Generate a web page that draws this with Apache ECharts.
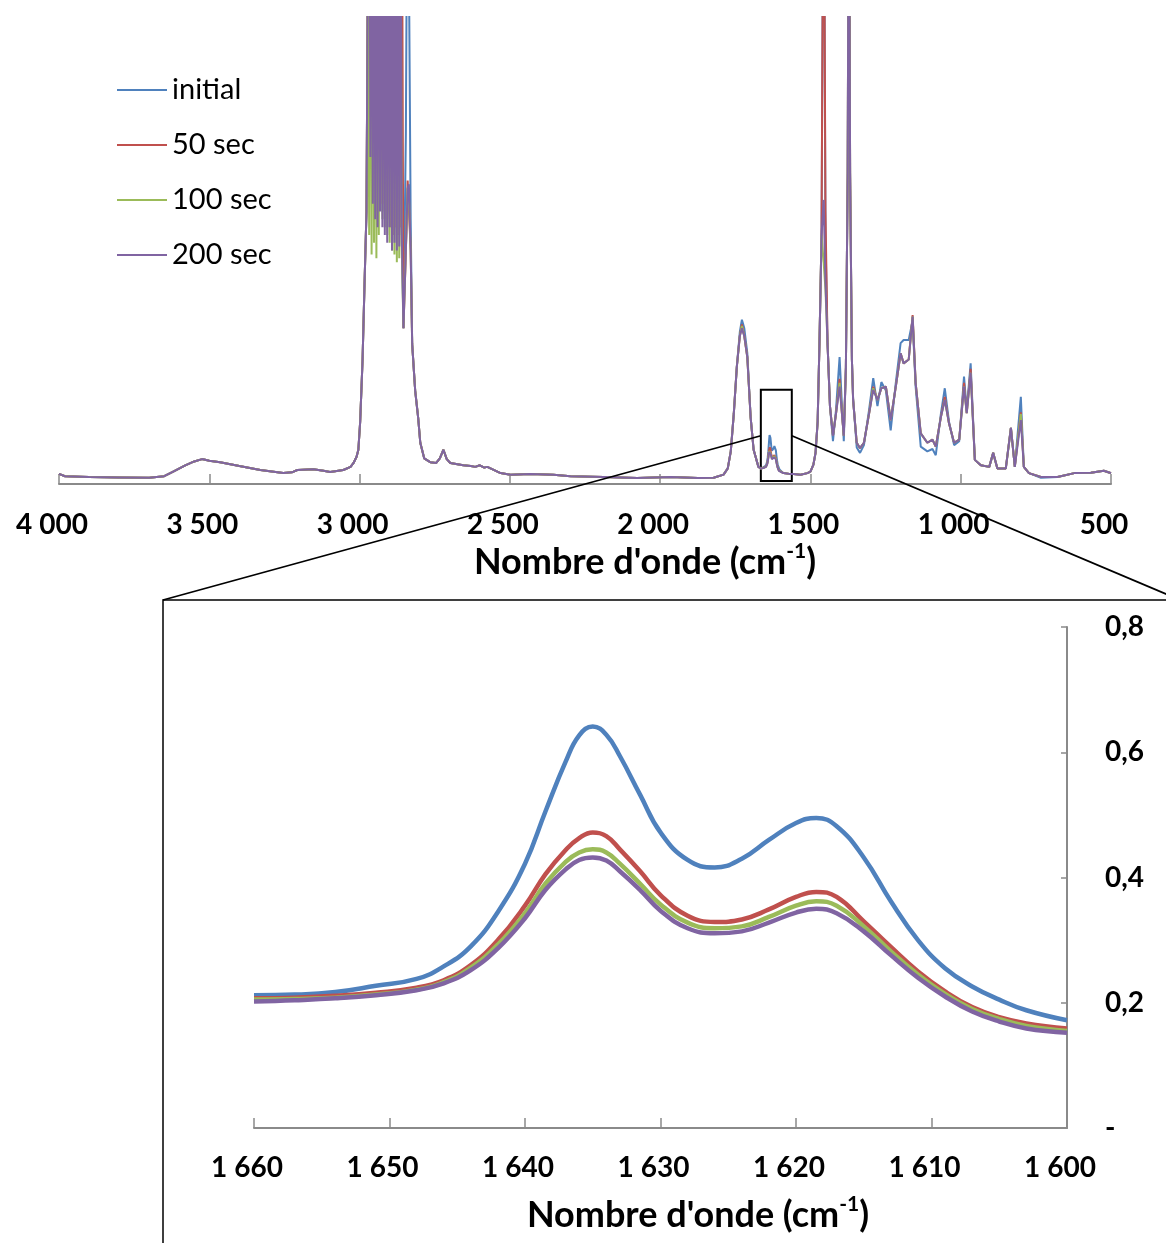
<!DOCTYPE html>
<html><head><meta charset="utf-8">
<script src="https://cdn.jsdelivr.net/npm/echarts@6/dist/echarts.min.js"></script>
<style>html,body{margin:0;padding:0;background:#fff}#c{width:1166px;height:1243px}</style>
</head><body><div id="c"></div>
<script>
// ---------- DATA ----------
const seriesNames = ['initial', '50 sec', '100 sec', '200 sec'];

// Full spectrum, part before the zoomed window (cm-1)
const topWnA = [4000,3980,3900,3800,3700,3650,3620,3580,3550,3524,3500,3464,3400,3330,3254,3225,3207,3154,3120,3098,3054,3030,3020,3010,3004,2998,2990,2984,2977,2972,
2968,2964,2960,2956,2952,2948,2944,2940,2936,2932,2928,2924,2920,2916,2912,2908,2904,2900,2896,2892,2888,2884,2880,2876,2872,2868,2864,2860,
2854,2846,2840,2836,2830,2825,2815,2805,2798,2785,2765,2745,2733,2721,2710,2698,2655,2630,2615,2600,2585,2575,2531,2498,2432,2355,2298,2188,2076,1965,1875,1822,1789,1775,1765,1755,1745,1735,1728,1720,1710,1699,1689,1673,1665];

const topInitialA = [0.13,0.10,0.09,0.085,0.08,0.10,0.16,0.24,0.29,0.32,0.30,0.28,0.23,0.18,0.14,0.15,0.18,0.19,0.17,0.155,0.18,0.22,0.27,0.35,0.44,0.8,1.6,2.5,3.5,7,
9,4.5,9,3.8,9,3.6,9,3.5,9,3.7,9,3.5,9,3.4,9,3.3,9,3.5,9,3.2,9,3.3,9,3.2,9,3.2,9,3.5,
2.0,4.5,9,9,3.4,1.8,1.2,0.85,0.53,0.33,0.28,0.27,0.33,0.44,0.32,0.27,0.24,0.23,0.22,0.24,0.21,0.22,0.14,0.12,0.13,0.12,0.10,0.09,0.077,0.09,0.077,0.08,0.12,0.2,0.42,0.9,1.5,1.95,2.11,2.0,1.68,0.86,0.44,0.22,0.2];
const top50A = [0.13,0.10,0.09,0.085,0.08,0.10,0.16,0.24,0.29,0.32,0.30,0.28,0.23,0.18,0.14,0.15,0.18,0.19,0.17,0.155,0.18,0.22,0.27,0.35,0.44,0.8,1.6,2.5,3.5,7,
9,4.5,9,3.9,9,3.7,9,3.6,9,3.8,9,3.6,9,3.5,9,3.4,9,3.5,3.3,9,3.2,9,3.3,9,3.2,9,3.3,9,
2.0,3.0,3.9,3.9,3.0,1.8,1.2,0.85,0.53,0.33,0.28,0.27,0.33,0.44,0.32,0.27,0.24,0.23,0.22,0.24,0.21,0.22,0.14,0.12,0.13,0.12,0.10,0.09,0.077,0.09,0.077,0.08,0.12,0.2,0.42,0.9,1.5,1.9,2.05,1.9,1.63,0.86,0.44,0.22,0.2];
const top100A = [0.13,0.10,0.09,0.085,0.08,0.10,0.16,0.24,0.29,0.32,0.30,0.28,0.23,0.18,0.14,0.15,0.18,0.19,0.17,0.155,0.18,0.22,0.27,0.35,0.44,0.8,1.6,2.5,3.5,7,
3.2,9,2.95,9,3.1,9,2.9,9,3.2,9,9,3.4,9,3.3,9,3.2,9,3.1,9,3.0,9,2.95,9,2.85,9,2.9,9,3.1,
2.0,3.0,3.8,3.7,3.0,1.8,1.2,0.85,0.53,0.33,0.28,0.27,0.33,0.44,0.32,0.27,0.24,0.23,0.22,0.24,0.21,0.22,0.14,0.12,0.13,0.12,0.10,0.09,0.077,0.09,0.077,0.08,0.12,0.2,0.42,0.9,1.5,1.9,2.03,1.9,1.63,0.86,0.44,0.22,0.2];
const top200A = [0.13,0.10,0.09,0.085,0.08,0.10,0.16,0.24,0.29,0.32,0.30,0.28,0.23,0.18,0.14,0.15,0.18,0.19,0.17,0.155,0.18,0.22,0.27,0.35,0.44,0.8,1.6,2.5,3.5,7,
9,4.2,9,3.6,9,3.4,9,3.3,9,3.5,9,3.3,9,3.2,9,3.1,9,3.3,9,3.0,9,3.1,9,3.0,9,3.05,9,3.3,
2.0,3.0,3.8,3.85,3.0,1.8,1.2,0.85,0.53,0.33,0.28,0.27,0.33,0.44,0.32,0.27,0.24,0.23,0.22,0.24,0.21,0.22,0.14,0.12,0.13,0.12,0.10,0.09,0.077,0.09,0.077,0.08,0.12,0.2,0.42,0.9,1.5,1.9,2.0,1.9,1.63,0.86,0.44,0.22,0.2];

// Zoomed window 1660-1600 cm-1 (also part of the full spectrum)
const insetWn = [1660,1657,1654,1651,1648,1646,1644,1642,1640,1638.5,1637,1636,1635,1634,1633,1631.5,1630,1628,1626,1624,1622,1620,1618.5,1617,1615,1613,1611,1609,1607,1605,1603,1600];
const insetInitial = [0.212,0.213,0.217,0.227,0.238,0.258,0.29,0.345,0.422,0.505,0.585,0.627,0.641,0.628,0.594,0.532,0.472,0.428,0.416,0.43,0.46,0.487,0.495,0.482,0.432,0.362,0.30,0.255,0.226,0.205,0.188,0.172];
const inset50 = [0.207,0.208,0.211,0.216,0.224,0.236,0.26,0.30,0.355,0.405,0.444,0.463,0.472,0.466,0.445,0.41,0.372,0.339,0.329,0.333,0.349,0.369,0.377,0.369,0.33,0.289,0.25,0.218,0.193,0.177,0.167,0.159];
const inset100 = [0.205,0.206,0.208,0.213,0.221,0.233,0.256,0.293,0.343,0.39,0.425,0.44,0.445,0.44,0.422,0.39,0.357,0.328,0.319,0.322,0.337,0.355,0.362,0.355,0.322,0.282,0.245,0.214,0.19,0.174,0.163,0.155];
const inset200 = [0.202,0.204,0.207,0.212,0.22,0.231,0.252,0.287,0.335,0.38,0.413,0.428,0.432,0.427,0.41,0.38,0.347,0.319,0.311,0.314,0.328,0.344,0.35,0.343,0.314,0.276,0.24,0.21,0.186,0.17,0.159,0.152];

// Full spectrum, part after the zoomed window
const topWnB = [1590,1570,1556,1533,1510,1500,1490,1483,1476,1470,1463,1456,1450,1443,1435,1425,1415,1403,1395,1389,1382,1376,1372,1368,1362,1358,1346,1335,1322,1305,1291,1277,1264,1249,1233,1216,1200,1190,1173,1160,1150,1133,1111,1094,1083,1066,1053,1039,1022,1005,989,980,967,953,933,905,892,878,850,833,820,800,790,773,733,678,622,567,524,504,500];
const topInitialB = [0.14,0.13,0.13,0.12,0.14,0.16,0.25,0.4,0.8,1.8, 3.2,9,3.2,1.8,1.0,0.55,0.95,1.63,1.0,0.55, 1.5,4,9,4,1.6,1.1,0.47,0.4,0.5,0.95, 1.36,1.0,1.31,1.2,0.69,1.3,1.81,1.85,1.85,2.1, 1.25,0.48,0.42,0.45,0.37,0.9,1.23,0.8,0.5,0.55, 1.38,0.95,1.55,0.31,0.24,0.22,0.40,0.2,0.2,0.72, 0.22,1.12,0.22,0.14,0.08,0.09,0.14,0.145,0.17,0.145, 0.14];
const top50B = [0.14,0.13,0.13,0.12,0.14,0.16,0.25,0.4,0.8,1.8, 3.2,9,3.5,1.8,1.0,0.62,0.9,1.35,0.9,0.62, 1.5,4,9,4,1.6,1.08,0.53,0.46,0.53,0.9, 1.25,1.08,1.23,1.25,0.82,1.25,1.68,1.55,1.6,2.17, 1.3,0.65,0.53,0.57,0.48,0.86,1.12,0.78,0.53,0.57, 1.3,0.91,1.48,0.31,0.24,0.22,0.40,0.2,0.2,0.72, 0.22,0.92,0.22,0.14,0.09,0.09,0.14,0.145,0.17,0.145, 0.14];
const top100B = [0.14,0.13,0.13,0.12,0.14,0.16,0.25,0.4,0.8,1.8, 3.2,2.85,2.5,1.8,1.0,0.62,0.9,1.3,0.9,0.62, 1.5,4,9,4,1.6,1.08,0.53,0.46,0.53,0.9, 1.23,1.08,1.23,1.25,0.82,1.25,1.68,1.55,1.6,2.15, 1.3,0.65,0.53,0.57,0.48,0.86,1.08,0.78,0.53,0.57, 1.25,0.91,1.43,0.31,0.24,0.22,0.40,0.2,0.2,0.72, 0.22,0.9,0.22,0.14,0.09,0.09,0.14,0.145,0.17,0.145, 0.14];
const top200B = [0.14,0.13,0.13,0.12,0.14,0.16,0.25,0.4,0.8,1.8, 3.2,3.65,2.6,1.8,1.0,0.62,0.9,1.25,0.9,0.62, 1.5,4,9,4,1.6,1.08,0.53,0.46,0.53,0.9, 1.21,1.08,1.23,1.25,0.82,1.25,1.68,1.55,1.6,2.15, 1.3,0.65,0.53,0.57,0.48,0.86,1.08,0.78,0.53,0.57, 1.25,0.91,1.43,0.31,0.24,0.22,0.40,0.2,0.2,0.72, 0.22,0.82,0.22,0.14,0.09,0.09,0.14,0.145,0.17,0.145, 0.14];

// Tick labels
const topTickValues = [4000,3500,3000,2500,2000,1500,1000,500];
const topTickLabels = ['4 000','3 500','3 000','2 500','2 000','1 500','1 000','500'];
const insetTickValues = [1660,1650,1640,1630,1620,1610,1600];
const insetTickLabels = ['1 660','1 650','1 640','1 630','1 620','1 610','1 600'];
const insetYValues = [0,0.2,0.4,0.6,0.8];
const insetYLabels = ['-','0,2','0,4','0,6','0,8'];
const axisTitle = "Nombre d'onde (cm";
const axisTitleSup = '-1';

// Zoom rectangle drawn on the full spectrum (wavenumber range, absorbance range)
const zoomBoxWn = [1665, 1562];
const zoomBoxAbs = [0.04, 1.21];
const zoomLinkAbs = 0.62;

// ---------- CHART ----------
const colors = ['#4F81BD', '#C0504D', '#9BBB59', '#8064A2'];
const pairs = (w, v) => w.map((x, i) => [x, v[i]]);
const topVals = [
  topInitialA.concat(insetInitial, topInitialB),
  top50A.concat(inset50, top50B),
  top100A.concat(inset100, top100B),
  top200A.concat(inset200, top200B)
];
const topWn = topWnA.concat(insetWn, topWnB);
const insetVals = [insetInitial, inset50, inset100, inset200];

const FONT = 'Lato';
const gray = '#8a8a8a';
const lookup = (vals, labels) => v => { const i = vals.findIndex(t => Math.abs(t - v) < 1e-6); return i >= 0 ? labels[i] : ''; };
const titleName = '{t|' + axisTitle + '}{s|' + axisTitleSup + '}{t|)}';
const titleRich = {
  t: { fontFamily: FONT, fontWeight: 'bold', fontSize: 36, color: '#000', lineHeight: 42 },
  s: { fontFamily: FONT, fontWeight: 'bold', fontSize: 21, color: '#000', lineHeight: 42, verticalAlign: 'top', padding: [0, 0, 16, 0] }
};

const series = [];
seriesNames.forEach((n, k) => {
  const s = {
    name: n, type: 'line', xAxisIndex: 0, yAxisIndex: 0,
    data: pairs(topWn, topVals[k]), showSymbol: false, symbol: 'none',
    lineStyle: { color: colors[k], width: 2 }, itemStyle: { color: colors[k] },
    clip: true, animation: false, z: 2 + k
  };
  if (k === 3) {
    s.markArea = {
      silent: true,
      itemStyle: { color: 'rgba(0,0,0,0)', borderColor: '#000', borderWidth: 2 },
      data: [[{ coord: [zoomBoxWn[0], zoomBoxAbs[0]] }, { coord: [zoomBoxWn[1], zoomBoxAbs[1]] }]]
    };
  }
  series.push(s);
});
seriesNames.forEach((n, k) => {
  series.push({
    name: n, type: 'line', xAxisIndex: 1, yAxisIndex: 1,
    data: pairs(insetWn, insetVals[k]), showSymbol: false, symbol: 'none', smooth: 0.45,
    lineStyle: { color: colors[k], width: 4.5 }, itemStyle: { color: colors[k] },
    animation: false, z: 2 + k
  });
});

const option = {
  backgroundColor: '#fff',
  animation: false,
  color: colors,
  legend: {
    data: seriesNames, orient: 'vertical', left: 117, top: 75, padding: 0,
    icon: 'rect', itemWidth: 50, itemHeight: 2, itemGap: 25,
    textStyle: { fontFamily: FONT, fontSize: 29, color: '#000', lineHeight: 30 },
    selectedMode: false
  },
  grid: [
    { left: 59, top: 17, width: 1052, height: 467, containLabel: false },
    { left: 254, top: 627, width: 813, height: 501, containLabel: false }
  ],
  xAxis: [
    {
      type: 'value', gridIndex: 0, min: 500, max: 4000, interval: 500, inverse: true,
      axisLine: { show: true, onZero: false, lineStyle: { color: gray, width: 2 } },
      axisTick: { show: true, inside: true, length: 10, lineStyle: { color: gray, width: 1.5 } },
      splitLine: { show: false },
      axisLabel: { formatter: lookup(topTickValues, topTickLabels), fontFamily: FONT, fontWeight: 'bold', fontSize: 28, color: '#000', margin: 27, padding: [0, 14, 0, 0] },
      name: titleName, nameLocation: 'middle', nameGap: 57,
      nameTextStyle: { rich: titleRich, padding: [0, 0, 0, 120] }
    },
    {
      type: 'value', gridIndex: 1, min: 1600, max: 1660, interval: 10, inverse: true,
      axisLine: { show: true, onZero: false, lineStyle: { color: gray, width: 2 } },
      axisTick: { show: true, inside: true, length: 10, lineStyle: { color: gray, width: 1.5 } },
      splitLine: { show: false },
      axisLabel: { formatter: lookup(insetTickValues, insetTickLabels), fontFamily: FONT, fontWeight: 'bold', fontSize: 28, color: '#000', margin: 26, padding: [0, 14, 0, 0] },
      name: titleName, nameLocation: 'middle', nameGap: 66,
      nameTextStyle: { rich: titleRich, padding: [0, 0, 0, 75] }
    }
  ],
  yAxis: [
    { type: 'value', gridIndex: 0, min: 0, max: 6, show: false, splitLine: { show: false } },
    {
      type: 'value', gridIndex: 1, min: 0, max: 0.8, interval: 0.2, position: 'right',
      axisLine: { show: true, onZero: false, lineStyle: { color: gray, width: 2 } },
      axisTick: { show: true, inside: true, length: 6, lineStyle: { color: gray, width: 1.5 } },
      splitLine: { show: false },
      axisLabel: { formatter: lookup(insetYValues, insetYLabels), fontFamily: FONT, fontWeight: 'bold', fontSize: 28, color: '#000', margin: 38 }
    }
  ],
  series: series
};

const chart = echarts.init(document.getElementById('c'), null, { renderer: 'canvas' });
chart.setOption(option);

const pL = chart.convertToPixel({ gridIndex: 0 }, [zoomBoxWn[0], zoomLinkAbs]);
const pR = chart.convertToPixel({ gridIndex: 0 }, [zoomBoxWn[1], zoomLinkAbs]);
chart.setOption({
  graphic: [
    { type: 'rect', z: 100, silent: true, shape: { x: 163, y: 600, width: 1100, height: 800 }, style: { fill: 'none', stroke: '#000', lineWidth: 1.5 } },
    { type: 'line', z: 100, silent: true, shape: { x1: pL[0], y1: pL[1], x2: 163, y2: 600 }, style: { stroke: '#000', lineWidth: 1.8 } },
    { type: 'line', z: 100, silent: true, shape: { x1: pR[0], y1: pR[1], x2: 1180, y2: 600 }, style: { stroke: '#000', lineWidth: 1.8 } }
  ]
});
</script>
</body></html>
